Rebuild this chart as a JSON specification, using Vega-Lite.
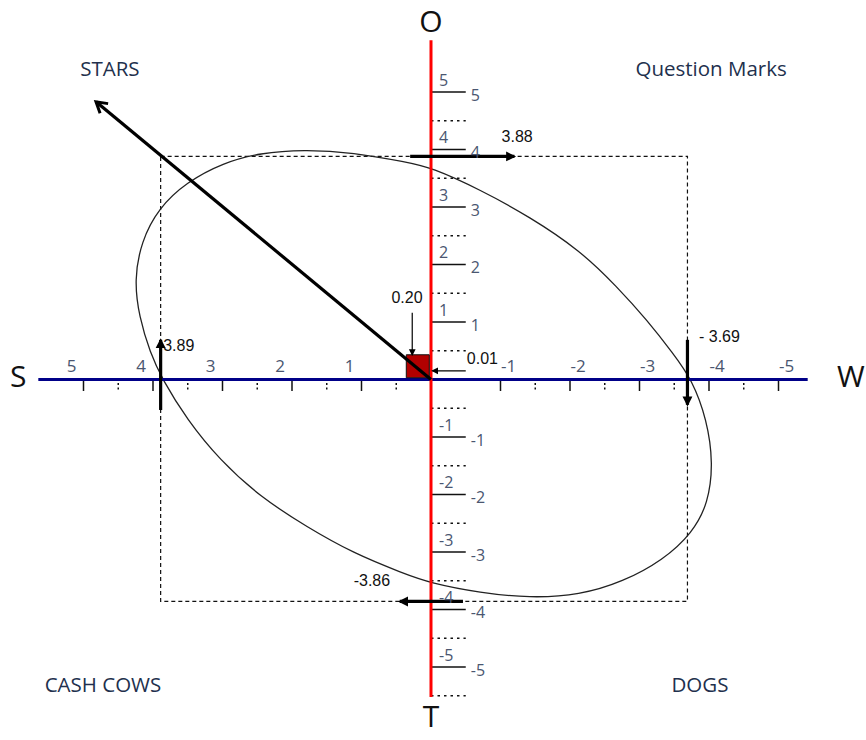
{
  "$schema": "https://vega.github.io/schema/vega-lite/v6.json",
  "width": 866,
  "height": 740,
  "padding": 0,
  "autosize": {"type": "none"},
  "background": "white",
  "config": {"view": {"stroke": null}},
  "datasets": {
    "ticks": [{"v": 5}, {"v": 4}, {"v": 3}, {"v": 2}, {"v": 1}, {"v": -1}, {"v": -2}, {"v": -3}, {"v": -4}, {"v": -5}],
    "hminor": [{"v": 4.5}, {"v": 3.5}, {"v": 2.5}, {"v": 1.5}, {"v": 0.5}, {"v": -1.5}, {"v": -2.5}, {"v": -3.5}, {"v": -4.5}],
    "vminor": [{"v": 4.5}, {"v": 3.5}, {"v": 2.5}, {"v": 1.5}, {"v": 0.5}, {"v": -0.5}, {"v": -1.5}, {"v": -2.5}, {"v": -3.5}, {"v": -4.5}, {"v": -5.5}],
    "axes": [
      {"axis": "S-W", "x": 5.65, "x2": -5.42, "y": 0, "y2": 0},
      {"axis": "O-T", "x": 0, "x2": 0, "y": 5.9, "y2": -5.52}
    ],
    "box": [{"x": 3.89, "x2": -3.69, "y": 3.88, "y2": -3.86}],
    "ellipse": [
      {"i": 1, "x": 3.87, "y": 0.01}, {"i": 2, "x": 4.04, "y": 0.46}, {"i": 3, "x": 4.2, "y": 1.09},
      {"i": 4, "x": 4.27, "y": 1.73}, {"i": 5, "x": 4.17, "y": 2.4}, {"i": 6, "x": 3.92, "y": 2.98},
      {"i": 7, "x": 3.52, "y": 3.43}, {"i": 8, "x": 2.99, "y": 3.77}, {"i": 9, "x": 2.46, "y": 3.94},
      {"i": 10, "x": 1.83, "y": 4.0}, {"i": 11, "x": 1.12, "y": 3.95}, {"i": 12, "x": 0.35, "y": 3.78},
      {"i": 13, "x": 0.0, "y": 3.69}, {"i": 14, "x": -0.71, "y": 3.3}, {"i": 15, "x": -1.42, "y": 2.83},
      {"i": 16, "x": -2.14, "y": 2.25}, {"i": 17, "x": -2.68, "y": 1.61}, {"i": 18, "x": -3.11, "y": 1.03},
      {"i": 19, "x": -3.48, "y": 0.46}, {"i": 20, "x": -3.76, "y": -0.01}, {"i": 21, "x": -3.97, "y": -0.7},
      {"i": 22, "x": -4.06, "y": -1.45}, {"i": 23, "x": -3.99, "y": -2.15}, {"i": 24, "x": -3.76, "y": -2.67},
      {"i": 25, "x": -3.34, "y": -3.14}, {"i": 26, "x": -2.76, "y": -3.52}, {"i": 27, "x": -2.14, "y": -3.75},
      {"i": 28, "x": -1.42, "y": -3.8}, {"i": 29, "x": -0.71, "y": -3.71}, {"i": 30, "x": 0.01, "y": -3.54},
      {"i": 31, "x": 0.4, "y": -3.37}, {"i": 32, "x": 1.12, "y": -3.02}, {"i": 33, "x": 1.78, "y": -2.57},
      {"i": 34, "x": 2.46, "y": -2.04}, {"i": 35, "x": 3.04, "y": -1.4}, {"i": 36, "x": 3.51, "y": -0.7}
    ],
    "point": [{"label": "0.20 / 0.01", "x": 0.19, "y": 0.23}],
    "arrows": [
      {"arrow": "STARS", "x": 0, "y": 0, "x2": 4.82, "y2": 4.83, "dir": "up-left", "weight": "heavy"},
      {"arrow": "3.88", "x": 0.3, "y": 3.88, "x2": -1.2, "y2": 3.88, "dir": "right", "weight": "heavy"},
      {"arrow": "-3.86", "x": -0.46, "y": -3.86, "x2": 0.45, "y2": -3.86, "dir": "left", "weight": "heavy"},
      {"arrow": "3.89", "x": 3.89, "y": -0.53, "x2": 3.89, "y2": 0.69, "dir": "up", "weight": "heavy"},
      {"arrow": "-3.69", "x": -3.69, "y": 0.69, "x2": -3.69, "y2": -0.44, "dir": "down", "weight": "heavy"},
      {"arrow": "0.20", "x": 0.27, "y": 1.16, "x2": 0.27, "y2": 0.43, "dir": "down", "weight": "light"},
      {"arrow": "0.01", "x": -0.5, "y": 0.15, "x2": -0.02, "y2": 0.15, "dir": "left", "weight": "light"}
    ],
    "notes": [
      {"text": "3.88", "x": -1.24, "y": 4.21},
      {"text": "3.89", "x": 3.63, "y": 0.58},
      {"text": "- 3.69", "x": -4.15, "y": 0.74},
      {"text": "-3.86", "x": 0.85, "y": -3.51},
      {"text": "0.20", "x": 0.345, "y": 1.42},
      {"text": "0.01", "x": -0.74, "y": 0.36}
    ],
    "poles": [
      {"t": "O", "x": 0, "y": 6.2},
      {"t": "T", "x": 0, "y": -5.88},
      {"t": "S", "x": 5.94, "y": 0.02},
      {"t": "W", "x": -6.04, "y": 0.02}
    ],
    "quadrants": [
      {"t": "STARS", "x": 4.62, "y": 5.38},
      {"t": "Question Marks", "x": -4.03, "y": 5.38},
      {"t": "CASH COWS", "x": 4.72, "y": -5.33},
      {"t": "DOGS", "x": -3.87, "y": -5.33}
    ]
  },
  "layer": [
    {
      "data": {"name": "box"},
      "mark": {"type": "rect", "filled": false, "stroke": "#111", "strokeWidth": 1.2, "strokeDash": [4, 3]},
      "encoding": {
        "x": {"field": "x", "type": "quantitative", "scale": {"domain": [-6.259, 6.2014], "reverse": true, "nice": false, "zero": false}, "axis": null},
        "x2": {"field": "x2"},
        "y": {"field": "y", "type": "quantitative", "scale": {"domain": [-6.2696, 6.6], "nice": false, "zero": false}, "axis": null},
        "y2": {"field": "y2"}
      }
    },
    {
      "data": {"name": "ellipse"},
      "mark": {"type": "line", "interpolate": "basis-closed", "stroke": "#222", "strokeWidth": 1.3},
      "encoding": {
        "x": {"field": "x", "type": "quantitative", "scale": {"domain": [-6.259, 6.2014], "reverse": true, "nice": false, "zero": false}, "axis": null},
        "y": {"field": "y", "type": "quantitative", "scale": {"domain": [-6.2696, 6.6], "nice": false, "zero": false}, "axis": null},
        "order": {"field": "i", "type": "quantitative"}
      }
    },
    {
      "data": {"name": "ticks"},
      "mark": {"type": "rule", "stroke": "#111", "strokeWidth": 1.5},
      "encoding": {
        "x": {"field": "v", "type": "quantitative", "scale": {"domain": [-6.259, 6.2014], "reverse": true, "nice": false, "zero": false}, "axis": null},
        "y": {"datum": 0, "type": "quantitative", "scale": {"domain": [-6.2696, 6.6], "nice": false, "zero": false}, "axis": null},
        "y2": {"datum": -0.2}
      }
    },
    {
      "data": {"name": "hminor"},
      "mark": {"type": "rule", "stroke": "#111", "strokeWidth": 1.5, "strokeDash": [2, 2.5]},
      "encoding": {
        "x": {"field": "v", "type": "quantitative", "scale": {"domain": [-6.259, 6.2014], "reverse": true, "nice": false, "zero": false}, "axis": null},
        "y": {"datum": -0.06, "type": "quantitative", "scale": {"domain": [-6.2696, 6.6], "nice": false, "zero": false}, "axis": null},
        "y2": {"datum": -0.2}
      }
    },
    {
      "data": {"name": "ticks"},
      "mark": {"type": "rule", "stroke": "#111", "strokeWidth": 1.5},
      "encoding": {
        "y": {"field": "v", "type": "quantitative", "scale": {"domain": [-6.2696, 6.6], "nice": false, "zero": false}, "axis": null},
        "x": {"datum": 0, "type": "quantitative", "scale": {"domain": [-6.259, 6.2014], "reverse": true, "nice": false, "zero": false}, "axis": null},
        "x2": {"datum": -0.5}
      }
    },
    {
      "data": {"name": "vminor"},
      "mark": {"type": "rule", "stroke": "#111", "strokeWidth": 1.5, "strokeDash": [2.5, 4]},
      "encoding": {
        "y": {"field": "v", "type": "quantitative", "scale": {"domain": [-6.2696, 6.6], "nice": false, "zero": false}, "axis": null},
        "x": {"datum": 0, "type": "quantitative", "scale": {"domain": [-6.259, 6.2014], "reverse": true, "nice": false, "zero": false}, "axis": null},
        "x2": {"datum": -0.5}
      }
    },
    {
      "data": {"name": "axes"},
      "mark": {"type": "rule", "strokeWidth": 3},
      "encoding": {
        "x": {"field": "x", "type": "quantitative", "scale": {"domain": [-6.259, 6.2014], "reverse": true, "nice": false, "zero": false}, "axis": null},
        "x2": {"field": "x2"},
        "y": {"field": "y", "type": "quantitative", "scale": {"domain": [-6.2696, 6.6], "nice": false, "zero": false}, "axis": null},
        "y2": {"field": "y2"},
        "color": {"field": "axis", "type": "nominal", "scale": {"domain": ["S-W", "O-T"], "range": ["#000088", "#ff0000"]}, "legend": null}
      }
    },
    {
      "data": {"name": "point"},
      "mark": {"type": "point", "shape": "square", "filled": true, "fill": "#b20000", "stroke": "#111", "strokeWidth": 1, "opacity": 1, "size": 529},
      "encoding": {
        "x": {"field": "x", "type": "quantitative", "scale": {"domain": [-6.259, 6.2014], "reverse": true, "nice": false, "zero": false}, "axis": null},
        "y": {"field": "y", "type": "quantitative", "scale": {"domain": [-6.2696, 6.6], "nice": false, "zero": false}, "axis": null}
      }
    },
    {
      "data": {"name": "arrows"},
      "mark": {"type": "rule", "stroke": "#000"},
      "encoding": {
        "x": {"field": "x", "type": "quantitative", "scale": {"domain": [-6.259, 6.2014], "reverse": true, "nice": false, "zero": false}, "axis": null},
        "x2": {"field": "x2"},
        "y": {"field": "y", "type": "quantitative", "scale": {"domain": [-6.2696, 6.6], "nice": false, "zero": false}, "axis": null},
        "y2": {"field": "y2"},
        "strokeWidth": {"field": "weight", "type": "ordinal", "scale": {"domain": ["heavy", "light"], "range": [3.2, 1.2]}, "legend": null}
      }
    },
    {
      "data": {"name": "arrows"},
      "transform": [{"filter": "datum.dir === 'up-left'"}],
      "mark": {"type": "point", "shape": "M-0.9,1.5L0,0L0.9,1.5", "filled": false, "stroke": "#000", "strokeWidth": 3, "opacity": 1, "size": 196, "angle": 309.6},
      "encoding": {
        "x": {"field": "x2", "type": "quantitative", "scale": {"domain": [-6.259, 6.2014], "reverse": true, "nice": false, "zero": false}, "axis": null},
        "y": {"field": "y2", "type": "quantitative", "scale": {"domain": [-6.2696, 6.6], "nice": false, "zero": false}, "axis": null}
      }
    },
    {
      "data": {"name": "arrows"},
      "transform": [{"filter": "datum.dir === 'up'"}],
      "mark": {"type": "point", "shape": "M0,-0.3L0.9,1.5L-0.9,1.5Z", "filled": true, "fill": "#000", "strokeWidth": 0, "opacity": 1, "angle": 0},
      "encoding": {
        "x": {"field": "x2", "type": "quantitative", "scale": {"domain": [-6.259, 6.2014], "reverse": true, "nice": false, "zero": false}, "axis": null},
        "y": {"field": "y2", "type": "quantitative", "scale": {"domain": [-6.2696, 6.6], "nice": false, "zero": false}, "axis": null},
        "size": {"field": "weight", "type": "ordinal", "scale": {"domain": ["heavy", "light"], "range": [121, 56]}, "legend": null}
      }
    },
    {
      "data": {"name": "arrows"},
      "transform": [{"filter": "datum.dir === 'right'"}],
      "mark": {"type": "point", "shape": "M0,-0.3L0.9,1.5L-0.9,1.5Z", "filled": true, "fill": "#000", "strokeWidth": 0, "opacity": 1, "angle": 90},
      "encoding": {
        "x": {"field": "x2", "type": "quantitative", "scale": {"domain": [-6.259, 6.2014], "reverse": true, "nice": false, "zero": false}, "axis": null},
        "y": {"field": "y2", "type": "quantitative", "scale": {"domain": [-6.2696, 6.6], "nice": false, "zero": false}, "axis": null},
        "size": {"field": "weight", "type": "ordinal", "scale": {"domain": ["heavy", "light"], "range": [121, 56]}, "legend": null}
      }
    },
    {
      "data": {"name": "arrows"},
      "transform": [{"filter": "datum.dir === 'down'"}],
      "mark": {"type": "point", "shape": "M0,-0.3L0.9,1.5L-0.9,1.5Z", "filled": true, "fill": "#000", "strokeWidth": 0, "opacity": 1, "angle": 180},
      "encoding": {
        "x": {"field": "x2", "type": "quantitative", "scale": {"domain": [-6.259, 6.2014], "reverse": true, "nice": false, "zero": false}, "axis": null},
        "y": {"field": "y2", "type": "quantitative", "scale": {"domain": [-6.2696, 6.6], "nice": false, "zero": false}, "axis": null},
        "size": {"field": "weight", "type": "ordinal", "scale": {"domain": ["heavy", "light"], "range": [121, 56]}, "legend": null}
      }
    },
    {
      "data": {"name": "arrows"},
      "transform": [{"filter": "datum.dir === 'left'"}],
      "mark": {"type": "point", "shape": "M0,-0.3L0.9,1.5L-0.9,1.5Z", "filled": true, "fill": "#000", "strokeWidth": 0, "opacity": 1, "angle": 270},
      "encoding": {
        "x": {"field": "x2", "type": "quantitative", "scale": {"domain": [-6.259, 6.2014], "reverse": true, "nice": false, "zero": false}, "axis": null},
        "y": {"field": "y2", "type": "quantitative", "scale": {"domain": [-6.2696, 6.6], "nice": false, "zero": false}, "axis": null},
        "size": {"field": "weight", "type": "ordinal", "scale": {"domain": ["heavy", "light"], "range": [121, 56]}, "legend": null}
      }
    },
    {
      "data": {"name": "ticks"},
      "transform": [{"filter": "datum.v > 0"}],
      "mark": {"type": "text", "font": "Open Sans", "fontSize": 17, "fill": "#4a5670", "align": "center", "baseline": "middle", "dx": -12, "dy": -12},
      "encoding": {
        "x": {"field": "v", "type": "quantitative", "scale": {"domain": [-6.259, 6.2014], "reverse": true, "nice": false, "zero": false}, "axis": null},
        "y": {"datum": 0, "type": "quantitative", "scale": {"domain": [-6.2696, 6.6], "nice": false, "zero": false}, "axis": null},
        "text": {"field": "v", "type": "nominal"}
      }
    },
    {
      "data": {"name": "ticks"},
      "transform": [{"filter": "datum.v < 0"}],
      "mark": {"type": "text", "font": "Open Sans", "fontSize": 17, "fill": "#4a5670", "align": "center", "baseline": "middle", "dx": 8, "dy": -12},
      "encoding": {
        "x": {"field": "v", "type": "quantitative", "scale": {"domain": [-6.259, 6.2014], "reverse": true, "nice": false, "zero": false}, "axis": null},
        "y": {"datum": 0, "type": "quantitative", "scale": {"domain": [-6.2696, 6.6], "nice": false, "zero": false}, "axis": null},
        "text": {"field": "v", "type": "nominal"}
      }
    },
    {
      "data": {"name": "ticks"},
      "mark": {"type": "text", "font": "Open Sans", "fontSize": 16, "fill": "#4a5670", "align": "left", "baseline": "middle", "dx": 8, "dy": -11},
      "encoding": {
        "y": {"field": "v", "type": "quantitative", "scale": {"domain": [-6.2696, 6.6], "nice": false, "zero": false}, "axis": null},
        "x": {"datum": 0, "type": "quantitative", "scale": {"domain": [-6.259, 6.2014], "reverse": true, "nice": false, "zero": false}, "axis": null},
        "text": {"field": "v", "type": "nominal"}
      }
    },
    {
      "data": {"name": "ticks"},
      "mark": {"type": "text", "font": "Open Sans", "fontSize": 16, "fill": "#4a5670", "align": "left", "baseline": "middle", "dx": 5, "dy": 4},
      "encoding": {
        "y": {"field": "v", "type": "quantitative", "scale": {"domain": [-6.2696, 6.6], "nice": false, "zero": false}, "axis": null},
        "x": {"datum": -0.5, "type": "quantitative", "scale": {"domain": [-6.259, 6.2014], "reverse": true, "nice": false, "zero": false}, "axis": null},
        "text": {"field": "v", "type": "nominal"}
      }
    },
    {
      "data": {"name": "notes"},
      "mark": {"type": "text", "font": "Liberation Sans", "fontSize": 16, "fill": "#111", "align": "center", "baseline": "middle"},
      "encoding": {
        "x": {"field": "x", "type": "quantitative", "scale": {"domain": [-6.259, 6.2014], "reverse": true, "nice": false, "zero": false}, "axis": null},
        "y": {"field": "y", "type": "quantitative", "scale": {"domain": [-6.2696, 6.6], "nice": false, "zero": false}, "axis": null},
        "text": {"field": "text", "type": "nominal"}
      }
    },
    {
      "data": {"name": "poles"},
      "mark": {"type": "text", "font": "Open Sans", "fontSize": 30, "fill": "#111", "align": "center", "baseline": "middle"},
      "encoding": {
        "x": {"field": "x", "type": "quantitative", "scale": {"domain": [-6.259, 6.2014], "reverse": true, "nice": false, "zero": false}, "axis": null},
        "y": {"field": "y", "type": "quantitative", "scale": {"domain": [-6.2696, 6.6], "nice": false, "zero": false}, "axis": null},
        "text": {"field": "t", "type": "nominal"}
      }
    },
    {
      "data": {"name": "quadrants"},
      "mark": {"type": "text", "font": "Open Sans", "fontSize": 20.5, "fill": "#22304d", "align": "center", "baseline": "middle"},
      "encoding": {
        "x": {"field": "x", "type": "quantitative", "scale": {"domain": [-6.259, 6.2014], "reverse": true, "nice": false, "zero": false}, "axis": null},
        "y": {"field": "y", "type": "quantitative", "scale": {"domain": [-6.2696, 6.6], "nice": false, "zero": false}, "axis": null},
        "text": {"field": "t", "type": "nominal"}
      }
    }
  ]
}
